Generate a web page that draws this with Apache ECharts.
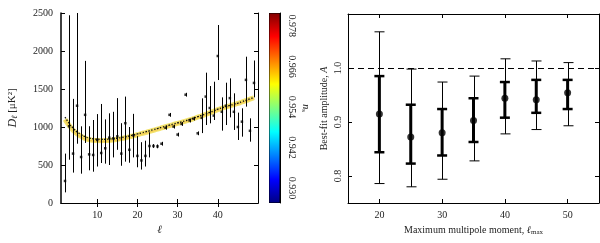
<!DOCTYPE html>
<html><head><meta charset="utf-8">
<script src="https://cdn.jsdelivr.net/npm/echarts@6/dist/echarts.min.js"></script>
<style>html,body{margin:0;padding:0;background:#fff}#c{width:600px;height:243px}</style>
</head><body><div id="c"></div>
<script>
// ---- Left panel: low-ell power spectrum ----
const ell = [2,3,4,5,6,7,8,9,10,11,12,13,14,15,16,17,18,19,20,21,22,23,24,25,26,27,28,29,30,31,32,33,34,35,36,37,38,39,40,41,42,43,44,45,46,47,48,49];
const dl = [290,1010,650,1280,605,1160,640,632,830,658,720,860,850,877,650,1050,700,890,620,560,620,750,750,745,780,990,1160,1005,900,1040,1425,1085,1110,917,1120,1400,1250,1150,1934,1200,1280,1380,1200,1000,1070,1620,950,1580];
const dlLo = [140,570,400,780,386,790,430,412,480,526,518,500,600,700,490,544,530,600,470,440,480,600,725,720,755,965,1135,980,875,1015,1400,1060,1085,892,920,1026,1048,1092,1618,952,1026,1127,961,829,873,1268,807,1390];
const dlHi = [650,2470,1370,2700,1009,1870,1010,1092,1170,1303,1100,1180,1200,1380,1050,1400,1000,1173,880,800,820,930,775,770,805,1015,1185,1030,925,1065,1450,1110,1135,942,1377,1715,1539,1596,2342,1390,1583,1640,1443,1189,1246,1925,1114,1875];
const theory = [1130,1050,985,935,900,872,855,845,840,838,838,840,845,852,860,870,882,895,908,922,936,950,965,980,995,1010,1025,1040,1055,1068,1084,1100,1117,1135,1153,1172,1192,1213,1235,1252,1268,1284,1300,1315,1334,1352,1371,1390];
const ensemble = [1100,1022,958,910,876,850,834,825,821,820,821,824,830,838,847,858,870,884,898,912,927,942,957,972,988,1003,1018,1033,1048,1062,1078,1094,1111,1129,1147,1166,1186,1207,1228,1246,1262,1279,1295,1310,1329,1347,1366,1385];
const leftXTicks = [10,20,30,40];
const leftYTicks = [0,500,1000,1500,2000,2500];
// ---- Colour bar ----
const nsExtent = [0.9256, 0.9818];
const nsTicks = [0.930,0.942,0.954,0.966,0.978];
// ---- Right panel: best-fit amplitude ----
const lmax = [20,25,30,35,40,45,50];
const amp = [0.915,0.872,0.880,0.903,0.944,0.941,0.954];
const ampLo1 = [0.844,0.823,0.838,0.863,0.908,0.917,0.924];
const ampHi1 = [0.985,0.932,0.924,0.944,0.974,0.978,0.978];
const ampLo2 = [0.786,0.780,0.794,0.828,0.878,0.886,0.893];
const ampHi2 = [1.067,0.998,0.974,0.985,1.017,1.013,1.010];
const rightXTicks = [20,30,40,50];
const rightYTicks = [0.8,0.9,1.0];

const FONT = 'Liberation Serif';
const chart = echarts.init(document.getElementById('c'), null, {renderer:'canvas'});

const frameLine = {show:true, lineStyle:{color:'#000', width:1}};
function tickIn(vals){ return {show:true, inside:true, length:4, lineStyle:{color:'#000'}, customValues: vals}; }
const lblStyle = {color:'#222', fontFamily:FONT, fontSize:10};

function vBar(width, cap){
  return function(params, api){
    const p1 = api.coord([api.value(0), api.value(1)]);
    const p2 = api.coord([api.value(0), api.value(2)]);
    const x = width === 1 ? Math.round(p1[0]) + 0.5 : p1[0];
    const children = [{type:'line', shape:{x1:x,y1:p1[1],x2:x,y2:p2[1]}, style:{stroke:'#000', lineWidth:width}}];
    if (cap) {
      const cw = width>1?2.5:1;
      children.push({type:'line', shape:{x1:x-cap,y1:p1[1],x2:x+cap,y2:p1[1]}, style:{stroke:'#000', lineWidth:cw}});
      children.push({type:'line', shape:{x1:x-cap,y1:p2[1],x2:x+cap,y2:p2[1]}, style:{stroke:'#000', lineWidth:cw}});
    }
    return {type:'group', children};
  };
}

const option = {
  animation:false,
  backgroundColor:'#fff',
  textStyle:{fontFamily:FONT},
  grid:[
    {left:61, top:13, width:197, height:190},
    {left:269, top:13, width:11, height:190},
    {left:348, top:14, width:251, height:189}
  ],
  xAxis:[
    {gridIndex:0, type:'value', min:1, max:50, position:'bottom',
     axisLine:frameLine, axisTick:tickIn(leftXTicks), splitLine:{show:false},
     axisLabel:Object.assign({customValues:leftXTicks, margin:7}, lblStyle),
     name:'ℓ', nameLocation:'middle', nameGap:19, nameTextStyle:{fontFamily:FONT, fontSize:11, fontStyle:'italic', color:'#222'}},
    {gridIndex:0, type:'value', min:1, max:50, position:'top',
     axisLine:frameLine, axisTick:tickIn(leftXTicks), splitLine:{show:false}, axisLabel:{show:false}},
    {gridIndex:1, type:'category', data:['ns'], show:false},
    {gridIndex:2, type:'value', min:15, max:55, position:'bottom',
     axisLine:frameLine, axisTick:tickIn(rightXTicks), splitLine:{show:false},
     axisLabel:Object.assign({customValues:rightXTicks, margin:7}, lblStyle),
     name:'{t|Maximum multipole moment, }{i|ℓ}{s|max}', nameLocation:'middle', nameGap:20,
     nameTextStyle:{rich:{t:{fontFamily:FONT,fontSize:10,color:'#222'}, i:{fontFamily:FONT,fontSize:10,fontStyle:'italic',color:'#222'}, s:{fontFamily:FONT,fontSize:7,color:'#222',verticalAlign:'bottom',padding:[4,0,0,0]}}}},
    {gridIndex:2, type:'value', min:15, max:55, position:'top',
     axisLine:frameLine, axisTick:tickIn(rightXTicks), splitLine:{show:false}, axisLabel:{show:false}}
  ],
  yAxis:[
    {gridIndex:0, type:'value', min:0, max:2500, interval:500, position:'left',
     axisLine:{show:true, lineStyle:{color:'#000', width:1.5}}, axisTick:tickIn(leftYTicks), splitLine:{show:false},
     axisLabel:Object.assign({margin:8, formatter:v=>String(v)}, lblStyle),
     name:'{i|D}{s|ℓ}{t| [μK²]}', nameLocation:'middle', nameGap:42,
     nameTextStyle:{rich:{t:{fontFamily:FONT,fontSize:11,color:'#222'}, i:{fontFamily:FONT,fontSize:12,fontStyle:'italic',color:'#222'}, s:{fontFamily:FONT,fontSize:8,fontStyle:'italic',color:'#222',padding:[5,0,0,0]}}}},
    {gridIndex:0, type:'value', min:0, max:2500, interval:500, position:'right',
     axisLine:frameLine, axisTick:tickIn(leftYTicks), splitLine:{show:false}, axisLabel:{show:false}},
    {gridIndex:1, type:'value', min:nsExtent[0], max:nsExtent[1], position:'right',
     axisLine:frameLine, axisTick:{show:true, inside:true, length:4, lineStyle:{color:'#000'}, customValues:nsTicks}, splitLine:{show:false},
     axisLabel:Object.assign({customValues:nsTicks, rotate:-90, margin:7, formatter:v=>v.toFixed(3)}, lblStyle),
     name:'{i|n}{s|s}', nameLocation:'middle', nameGap:20, nameRotate:-90,
     nameTextStyle:{rich:{i:{fontFamily:FONT,fontSize:10,fontStyle:'italic',color:'#222'}, s:{fontFamily:FONT,fontSize:7,color:'#222',padding:[4,0,0,0]}}}},
    {gridIndex:2, type:'value', min:0.75, max:1.1, position:'left',
     axisLine:frameLine, axisTick:tickIn(rightYTicks), splitLine:{show:false},
     axisLabel:Object.assign({customValues:rightYTicks, rotate:90, margin:5, formatter:v=>v.toFixed(1)}, lblStyle),
     name:'{t|Best-fit amplitude, }{i|A}', nameLocation:'middle', nameGap:19,
     nameTextStyle:{rich:{t:{fontFamily:FONT,fontSize:10,color:'#222'}, i:{fontFamily:FONT,fontSize:10,fontStyle:'italic',color:'#222'}}}},
    {gridIndex:2, type:'value', min:0.75, max:1.1, position:'right',
     axisLine:frameLine, axisTick:tickIn(rightYTicks), splitLine:{show:false}, axisLabel:{show:false}}
  ],
  series:[
    {type:'line', xAxisIndex:0, yAxisIndex:0, data:ell.map((l,i)=>[l,ensemble[i]]), showSymbol:false, smooth:true,
     lineStyle:{color:'#f4e36c', width:5}, z:2},
    {type:'line', xAxisIndex:0, yAxisIndex:0, data:ell.map((l,i)=>[l,ensemble[i]-8]), showSymbol:false, smooth:true,
     lineStyle:{color:'#f2c04a', width:1}, z:2},
    {type:'line', xAxisIndex:0, yAxisIndex:0, data:ell.map((l,i)=>[l,theory[i]]), showSymbol:false, smooth:true,
     lineStyle:{color:'#111', width:1.3, type:[1.5,1.5]}, z:3},
    {type:'custom', xAxisIndex:0, yAxisIndex:0, clip:true, renderItem:vBar(1,0),
     data:ell.map((l,i)=>[l,dlLo[i],dlHi[i]]), z:4},
    {type:'scatter', xAxisIndex:0, yAxisIndex:0, symbol:'rect', symbolSize:2.5, itemStyle:{color:'#000'},
     data:ell.map((l,i)=>[l,dl[i]]), z:5},
    {type:'custom', xAxisIndex:2, yAxisIndex:2, clip:true,
     data:[[0, nsExtent[0], nsExtent[1]]],
     renderItem:function(params, api){
       const lo = api.coord([api.value(0), api.value(1)]);
       const hi = api.coord([api.value(0), api.value(2)]);
       const cs = params.coordSys;
       return {type:'rect', shape:{x:cs.x, y:hi[1], width:cs.width, height:lo[1]-hi[1]},
         style:{fill:new echarts.graphic.LinearGradient(0,1,0,0,[
           {offset:0,color:'#00007f'},{offset:0.125,color:'#0000ff'},{offset:0.375,color:'#00ffff'},
           {offset:0.625,color:'#ffff00'},{offset:0.875,color:'#ff0000'},{offset:1,color:'#7f0000'}]), stroke:'#000', lineWidth:1}};
     }},
    {type:'custom', xAxisIndex:3, yAxisIndex:3, clip:true, renderItem:vBar(1,5),
     data:lmax.map((l,i)=>[l,ampLo2[i],ampHi2[i]]), z:3},
    {type:'custom', xAxisIndex:3, yAxisIndex:3, clip:true, renderItem:vBar(3,5),
     data:lmax.map((l,i)=>[l,ampLo1[i],ampHi1[i]]), z:4},
    {type:'scatter', xAxisIndex:3, yAxisIndex:3, symbol:'circle', symbolSize:7, itemStyle:{color:'#000'},
     data:lmax.map((l,i)=>[l,amp[i]]), z:5,
     markLine:{silent:true, symbol:['none','none'], label:{show:false},
       lineStyle:{color:'#000', width:1, type:[6,4]}, data:[{yAxis:1.0}]}}
  ]
};
chart.setOption(option);
</script></body></html>
